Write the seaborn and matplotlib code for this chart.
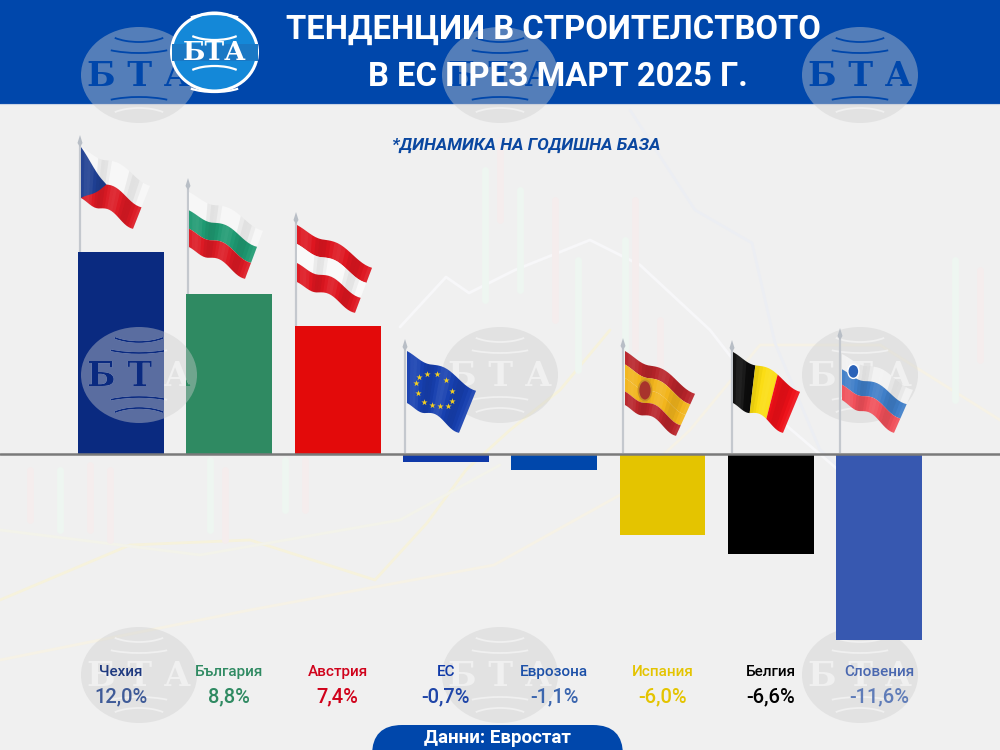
import numpy as np
import pandas as pd
import seaborn as sns
import matplotlib
matplotlib.use('Agg')
import matplotlib.pyplot as plt
from matplotlib.patches import Ellipse, Arc, Rectangle, Polygon, FancyBboxPatch

countries = ['Чехия', 'България', 'Австрия', 'ЕС', 'Еврозона',
             'Испания', 'Белгия', 'Словения']
value_labels = ['12,0%', '8,8%', '7,4%', '-0,7%', '-1,1%',
                '-6,0%', '-6,6%', '-11,6%']
# the source graphic does not draw its bars strictly to scale,
# so these are the lengths as read off the bars, not the labels
bar_lengths = [12.0, 9.5, 7.6, -0.5, -0.95, -4.8, -5.95, -11.05]
bar_colors = ['#0A2A80', '#2F8A62', '#E30A0A', '#0F39A8', '#0047AB',
              '#E4C400', '#000000', '#3758B0']
name_colors = ['#1F3A80', '#2F8A62', '#D0021B', '#0F39A8', '#1C50A8',
               '#E4C400', '#000000', '#4A68B0']
number_colors = ['#3F5B98', '#2F8A62', '#D0021B', '#1F45A8', '#3C66AE',
                 '#E4C400', '#000000', '#5F7CB8']

BLUE = '#0047AB'
BG = '#F0F0F0'

sns.set_theme(style='white')
plt.rcParams['font.family'] = ['Roboto', 'DejaVu Sans']

df = pd.DataFrame({'country': countries, 'length': bar_lengths})

fig = plt.figure(figsize=(10, 7.5), dpi=100, facecolor=BG)


def pixel_axes(zorder):
    a = fig.add_axes([0, 0, 1, 1], zorder=zorder)
    a.set_xlim(0, 1000)
    a.set_ylim(750, 0)
    a.patch.set_alpha(0)
    a.axis('off')
    return a


def globe_disc(a, cx, cy, z):
    a.add_patch(Ellipse((cx, cy), 116, 96, fc='#CECECE', ec='none', alpha=0.41, zorder=z))


def globe_cutouts(a, cx, cy, color, z, clip=None):
    # the arcs and letters of the watermark are holes in its disc
    arts = []
    for off, w in [(-46, 66), (-35, 92)]:
        arts.append(a.add_patch(Arc((cx, cy + off), w, 26, theta1=20, theta2=160,
                                    ec=color, lw=1.3, zorder=z)))
        arts.append(a.add_patch(Arc((cx, cy - off), w, 26, theta1=200, theta2=340,
                                    ec=color, lw=1.3, zorder=z)))
    arts.append(a.text(cx, cy + 1, 'Б Т А', family='DejaVu Serif', weight='bold', fontsize=24,
                       color=color, ha='center', va='center', zorder=z))
    if clip is not None:
        box = Rectangle((clip[0], clip[1]), clip[2] - clip[0], clip[3] - clip[1],
                        transform=a.transData)
        for art in arts:
            art.set_clip_path(box)
            art.set_clip_on(True)


def flag_mapper(tl, tr, bl, br):
    def mapper(u, v):
        u = np.asarray(u, float)
        v = np.asarray(v, float)
        top_x = tl[0] + u * (tr[0] - tl[0])
        top_y = tl[1] + u * (tr[1] - tl[1])
        bot_x = bl[0] + u * (br[0] - bl[0])
        bot_y = bl[1] + u * (br[1] - bl[1])
        wave = 3.5 * np.sin(2 * np.pi * 1.35 * u) * np.minimum(1, u * 3)
        return top_x + v * (bot_x - top_x), top_y + v * (bot_y - top_y) + wave
    return mapper


def flag_poly(a, mapper, corners, color, z, alpha=1.0):
    us, vs = [], []
    for (u0, v0), (u1, v1) in zip(corners, corners[1:] + corners[:1]):
        t = np.linspace(0, 1, 25)
        us.extend(u0 + t * (u1 - u0))
        vs.extend(v0 + t * (v1 - v0))
    x, y = mapper(us, vs)
    a.add_patch(Polygon(np.column_stack([x, y]), fc=color, ec='none', lw=0,
                        alpha=alpha, zorder=z))


def h_stripes(a, mapper, cols, z=5):
    n = len(cols)
    for i, c in enumerate(cols):
        flag_poly(a, mapper, [(0, i / n), (1, i / n), (1, (i + 1) / n), (0, (i + 1) / n)], c, z)


def folds(a, mapper, z=6):
    # soft shading across the cloth
    edges = np.linspace(0, 1, 21)
    for u0, u1 in zip(edges, edges[1:]):
        s = np.sin(2 * np.pi * 2.2 * (u0 + u1) / 2)
        flag_poly(a, mapper, [(u0, 0), (u1, 0), (u1, 1), (u0, 1)],
                  'white' if s > 0 else 'black', z, abs(s) * 0.09)


def draw_pole(a, x, top, bottom):
    a.plot([x, x], [top + 6, bottom], color='#C4C8CE', lw=1.6, zorder=4,
           solid_capstyle='butt')
    a.add_patch(Polygon([(x, top), (x + 2.5, top + 8), (x, top + 12), (x - 2.5, top + 8)],
                        fc='#B8BEC6', ec='none', zorder=4))


# background layer: faint market lines and the watermarks
ax_bg = pixel_axes(0)
for xs, ys, c in [
    ([0, 130, 250, 375, 427, 466, 510, 560, 610],
     [600, 545, 540, 580, 523, 470, 430, 390, 330], '#F6F2DC'),
    ([0, 250, 494, 620, 690, 760, 880, 1000],
     [660, 610, 565, 495, 430, 345, 345, 420], '#F6F2E6'),
    ([400, 446, 469, 515, 590, 640, 710, 780, 850],
     [327, 277, 293, 270, 240, 265, 330, 420, 480], '#F7F7F9'),
    ([630, 695, 752, 775, 820, 900],
     [110, 210, 243, 343, 450, 520], '#ECEEF3'),
    ([0, 200, 400, 500],
     [530, 555, 520, 465], '#F3F3EA'),
]:
    ax_bg.plot(xs, ys, color=c, lw=2, zorder=0.5)
for x, y0, y1, c in [(485, 170, 300, '#EEF6F1'), (500, 140, 220, '#F5EDED'),
                     (520, 190, 290, '#EEF6F1'), (555, 200, 320, '#F5EDED'),
                     (578, 260, 370, '#EEF6F1'), (625, 240, 380, '#EEF6F1'),
                     (635, 200, 350, '#F5EDED'), (660, 320, 400, '#F5EDED'),
                     (30, 470, 520, '#F5EDED'), (60, 470, 530, '#EEF6F1'),
                     (90, 465, 530, '#F5EDED'), (110, 470, 540, '#F5EDED'),
                     (210, 460, 530, '#EEF6F1'), (225, 470, 540, '#F5EDED'),
                     (285, 460, 510, '#EEF6F1'), (305, 460, 510, '#F5EDED'),
                     (955, 260, 400, '#EEF6F1'), (980, 270, 360, '#F5EDED')]:
    ax_bg.plot([x, x], [y0, y1], color=c, lw=5, zorder=0.5)
for cx, cy in [(500, 375), (860, 375), (139, 675), (500, 675), (860, 675)]:
    globe_disc(ax_bg, cx, cy, 1)
    globe_cutouts(ax_bg, cx, cy, BG, 1.1)

# the bars
ax = fig.add_axes([0, 0, 1, 1], zorder=1)
sns.barplot(data=df, x='country', y='length', hue='country', palette=bar_colors,
            saturation=1, width=0.794, legend=False, linewidth=0, ax=ax)
ax.patch.set_alpha(0)
ax.set_xlim(-121 / 108.3, 879 / 108.3)
ax.set_ylim(-296 / 16.83, 454 / 16.83)
ax.axhline(0, color='#7A7A7A', lw=1.8, zorder=5)
ax.axis('off')

# labels under the bars
label_trans = ax.get_xaxis_transform()
for i, (name, num) in enumerate(zip(countries, value_labels)):
    ax.text(i, 1 - 672 / 750, name, transform=label_trans, ha='center', va='center',
            fontsize=11, color=name_colors[i], weight=500)
    ax.text(i, 1 - 696.5 / 750, num, transform=label_trans, ha='center', va='center',
            fontsize=14.5, color=number_colors[i], weight=500)

# front layer: header, flags, texts
top = pixel_axes(2)
top.add_patch(Rectangle((0, 0), 1000, 103.5, fc=BLUE, ec='none', zorder=1))
top.plot([0, 1000], [103.5, 103.5], color='#C9D3E4', lw=0.8, zorder=1.1)

# watermarks that lie over the header and over the first bars
for cx in (139, 500, 860):
    globe_disc(top, cx, 75, 8)
    globe_cutouts(top, cx, 75, BLUE, 8.1, clip=(0, 0, 1000, 103.5))
    globe_cutouts(top, cx, 75, BG, 8.1, clip=(0, 103.5, 1000, 200))
globe_disc(top, 139, 375, 8)
globe_cutouts(top, 139, 375, BG, 8.1)
globe_cutouts(top, 139, 375, bar_colors[0], 8.2, clip=(78, 252, 163.5, 454))
globe_cutouts(top, 139, 375, bar_colors[1], 8.2, clip=(186, 294, 272, 454))

# logo
top.add_patch(Ellipse((214.5, 52), 86, 78, fc='#1488D8', ec='white', lw=2.2, zorder=9))
top.add_patch(Arc((214.5, 28), 60, 24, theta1=20, theta2=160, ec='white', lw=1.6, zorder=9.1))
top.add_patch(Arc((214.5, 26), 68, 24, theta1=200, theta2=340, ec='white', lw=1.6, zorder=9.1))
top.add_patch(Arc((214.5, 78), 60, 24, theta1=200, theta2=340, ec='white', lw=1.6, zorder=9.1))
top.add_patch(Arc((214.5, 80), 68, 24, theta1=20, theta2=160, ec='white', lw=1.6, zorder=9.1))
top.add_patch(Rectangle((172, 44), 86, 17, fc='#1A78C4', ec='none', zorder=9.2))
top.text(214.5, 52.5, 'БТА', family='DejaVu Serif', weight='bold', fontsize=19,
         color='white', ha='center', va='center', zorder=9.3)

top.text(553, 29.5, 'ТЕНДЕНЦИИ В СТРОИТЕЛСТВОТО', ha='center', va='center',
         fontsize=23.6, color='white', weight='bold', zorder=10)
top.text(558, 77, 'В ЕС ПРЕЗ МАРТ 2025 Г.', ha='center', va='center',
         fontsize=23.6, color='white', weight='bold', zorder=10)
top.text(526, 145, '*ДИНАМИКА НА ГОДИШНА БАЗА', ha='center', va='center',
         fontsize=12.5, color='#0A47A0', weight='bold', style='italic', zorder=10)

# poles and flags
for x, t, b in [(80, 135, 252), (188, 178, 294), (296, 212, 326), (405, 339, 453),
                (623, 338, 453), (732, 340, 453), (840, 328, 453)]:
    draw_pole(top, x, t, b)

cz = flag_mapper((81, 147), (150, 183), (81, 198), (133, 226))
h_stripes(top, cz, ['#F7F7F7', '#DC1A24'])
flag_poly(top, cz, [(0, 0), (0.42, 0.5), (0, 1)], '#1F3F92', 5.5)
folds(top, cz)

bg = flag_mapper((189, 192), (263, 228), (189, 247), (245, 276))
h_stripes(top, bg, ['#F7F7F7', '#1F9A72', '#DC1A24'])
folds(top, bg)

at = flag_mapper((297, 225), (372, 265), (297, 282), (355, 310))
h_stripes(top, at, ['#DE1620', '#F9F9F9', '#DE1620'])
folds(top, at)

eu = flag_mapper((407, 351), (476, 388), (407, 403), (459, 430))
h_stripes(top, eu, ['#1740B0'])
folds(top, eu)
ang = np.linspace(0, 2 * np.pi, 12, endpoint=False)
sx, sy = eu(0.45 + 0.3 * np.cos(ang), 0.5 + 0.33 * np.sin(ang))
top.scatter(sx, sy, marker='*', s=22, color='#F5D020', linewidths=0, zorder=7)

es = flag_mapper((625, 351), (695, 391), (625, 405), (676, 433))
h_stripes(top, es, ['#B8242A', '#F2B51C', '#F2B51C', '#B8242A'])
folds(top, es)
cx, cy = es(0.33, 0.5)
top.add_patch(Ellipse((float(cx), float(cy)), 13, 20, fc='#A8342C', ec='#C89028', lw=1.2, zorder=7))

be = flag_mapper((733, 352), (800, 389), (733, 403), (783, 430))
for i, c in enumerate(['#0C0C0C', '#FBDD10', '#EE1018']):
    flag_poly(top, be, [(i / 3, 0), ((i + 1) / 3, 0), ((i + 1) / 3, 1), (i / 3, 1)], c, 5)
folds(top, be)

si = flag_mapper((842, 354), (913, 387), (842, 400), (894, 430))
h_stripes(top, si, ['#F2F2F2', '#3F7EC8', '#F0505A'])
folds(top, si)
cx, cy = si(0.17, 0.22)
top.add_patch(Ellipse((float(cx), float(cy)), 11, 14, fc='#2A62B8', ec='white', lw=1, zorder=7))

# source pill
top.add_patch(FancyBboxPatch((372, 725), 251, 60, boxstyle='round,pad=0,rounding_size=30',
                             fc=BLUE, ec='none', zorder=9))
top.text(497, 738, 'Данни: Евростат', ha='center', va='center', fontsize=13.5,
         color='white', weight='bold', zorder=10)

fig.savefig('out.png', dpi=100, facecolor=BG)
